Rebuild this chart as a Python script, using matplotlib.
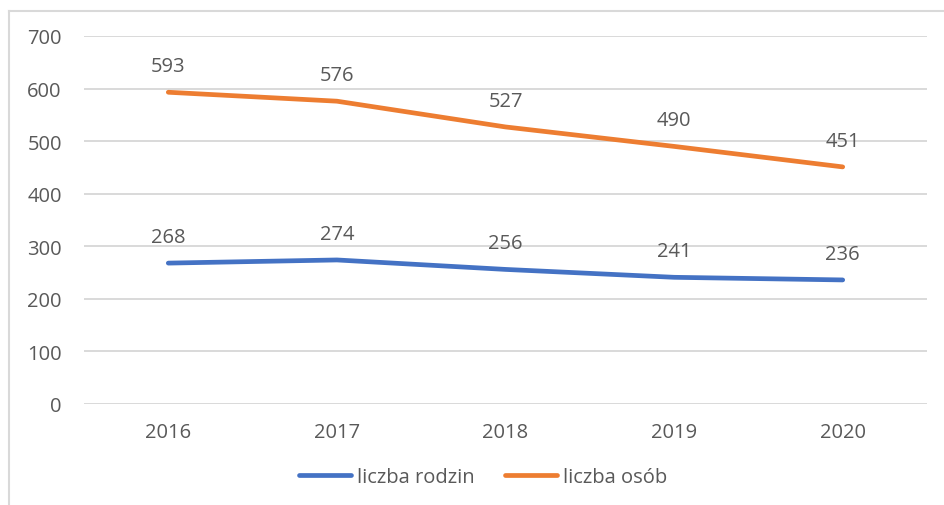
import matplotlib
matplotlib.use("Agg")
import matplotlib.pyplot as plt
from matplotlib.lines import Line2D

years = ["2016", "2017", "2018", "2019", "2020"]
rodzin = [268, 274, 256, 241, 236]
osob = [593, 576, 527, 490, 451]
series_names = ["liczba rodzin", "liczba osób"]
y_ticks = [0, 100, 200, 300, 400, 500, 600, 700]

plt.rcParams['font.family'] = ['Open Sans', 'DejaVu Sans']
W, H = 944, 506
fig = plt.figure(figsize=(W / 100, H / 100), dpi=100)
ax = fig.add_axes([84 / W, 1 - 405 / H, (927 - 84) / W, (405 - 37) / H])

blue = "#4472C4"
orange = "#ED7D31"
txt = "#595959"
grid = "#D9D9D9"
fs = 14.5

x = list(range(len(years)))
ax.plot(x, rodzin, color=blue, lw=3.4, solid_capstyle='round', label=series_names[0], zorder=3)
ax.plot(x, osob, color=orange, lw=3.4, solid_capstyle='round', label=series_names[1], zorder=3)

for xi, v in zip(x, rodzin):
    ax.annotate(str(v), (xi, v), xytext=(0, 19), textcoords='offset points',
                ha='center', va='center', fontsize=fs, color=txt)
for xi, v in zip(x, osob):
    ax.annotate(str(v), (xi, v), xytext=(0, 19), textcoords='offset points',
                ha='center', va='center', fontsize=fs, color=txt)

ax.set_xlim(-0.5, len(years) - 0.5)
ax.set_ylim(0, 700)
ax.set_yticks(y_ticks)
ax.set_xticks(x)
ax.set_xticklabels(years)
ax.tick_params(axis='both', length=0, labelsize=fs, labelcolor=txt)
ax.tick_params(axis='y', pad=16)
ax.tick_params(axis='x', pad=13)
ax.grid(axis='y', color=grid, lw=1.4)
ax.set_axisbelow(True)
for s in ax.spines.values():
    s.set_visible(False)

# Outer chart border (left and top visible)
fig.add_artist(Line2D([9 / W, 9 / W], [0, 1 - 12 / H], transform=fig.transFigure, color=grid, lw=1.5))
fig.add_artist(Line2D([9 / W, 1], [1 - 12 / H, 1 - 12 / H], transform=fig.transFigure, color=grid, lw=1.5))

leg = fig.legend(loc='center', bbox_to_anchor=(483 / W, 1 - 478 / H), ncol=2, frameon=False,
                 fontsize=fs, handlelength=2.6, handletextpad=0.3, columnspacing=1.5,
                 labelcolor=txt)
fig.savefig("out.png", dpi=100, facecolor="white")
